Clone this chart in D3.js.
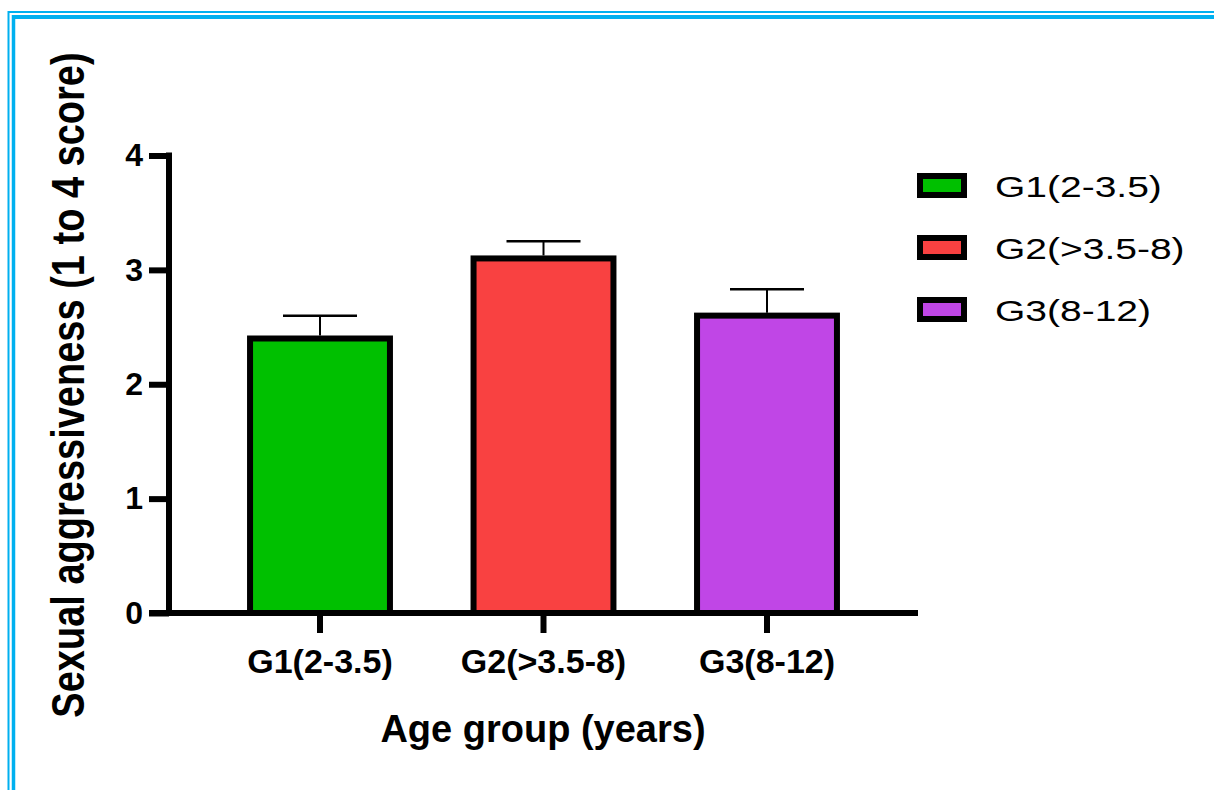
<!DOCTYPE html>
<html>
<head>
<meta charset="utf-8">
<script src="https://cdn.jsdelivr.net/npm/d3@7"></script>
<style>
  body { margin: 0; background: #fff; }
  text { font-family: Arial, "Liberation Sans", sans-serif; }
</style>
</head>
<body>
<script>
// dati
var gruppi = ["G1(2-3.5)", "G2(>3.5-8)", "G3(8-12)"];
var medie = [2.40, 3.10, 2.60];
var errori = [0.20, 0.15, 0.23];
var colori = ["#00C000", "#F94141", "#C046E6"];
var yTicks = [0, 1, 2, 3, 4];

var width = 1214, height = 790;
var font = "Arial, 'Liberation Sans', sans-serif";

var svg = d3.select("body").append("svg")
    .attr("width", width)
    .attr("height", height);

// cornice blu
svg.append("line").attr("x1", 8.5).attr("x2", 8.5).attr("y1", 11).attr("y2", height)
    .attr("stroke", "#00B0F0").attr("stroke-width", 2);
svg.append("line").attr("x1", 8).attr("x2", width).attr("y1", 12).attr("y2", 12)
    .attr("stroke", "#00B0F0").attr("stroke-width", 2);
svg.append("line").attr("x1", 13.5).attr("x2", 13.5).attr("y1", 15).attr("y2", height)
    .attr("stroke", "#00B0F0").attr("stroke-width", 3.5);
svg.append("line").attr("x1", 12).attr("x2", width).attr("y1", 17).attr("y2", 17)
    .attr("stroke", "#00B0F0").attr("stroke-width", 4);

// scale
var x = d3.scaleBand().domain(gruppi).range([208.25, 878.75]).paddingInner(0.374).paddingOuter(0.187);
var y = d3.scaleLinear().domain([0, 4]).range([613, 155.5]);

var g = svg.append("g");

// barre
g.selectAll("rect.bar").data(gruppi).enter().append("rect")
    .attr("class", "bar")
    .attr("x", function (d) { return x(d); })
    .attr("y", function (d, i) { return y(medie[i]); })
    .attr("width", x.bandwidth())
    .attr("height", function (d, i) { return y(0) - y(medie[i]); })
    .attr("fill", function (d, i) { return colori[i]; })
    .attr("stroke", "#000")
    .attr("stroke-width", 6);

// barre di errore
g.selectAll("line.err").data(gruppi).enter().append("line")
    .attr("x1", function (d) { return x(d) + x.bandwidth() / 2; })
    .attr("x2", function (d) { return x(d) + x.bandwidth() / 2; })
    .attr("y1", function (d, i) { return y(medie[i]) - 3; })
    .attr("y2", function (d, i) { return y(medie[i] + errori[i]); })
    .attr("stroke", "#000").attr("stroke-width", 2);
g.selectAll("line.cap").data(gruppi).enter().append("line")
    .attr("x1", function (d) { return x(d) + x.bandwidth() / 2 - 37; })
    .attr("x2", function (d) { return x(d) + x.bandwidth() / 2 + 37; })
    .attr("y1", function (d, i) { return y(medie[i] + errori[i]); })
    .attr("y2", function (d, i) { return y(medie[i] + errori[i]); })
    .attr("stroke", "#000").attr("stroke-width", 2.5);

// assi
var yAxis = d3.axisLeft(y).tickValues(yTicks).tickSize(20).tickPadding(6).tickFormat(d3.format("d"));
var yg = svg.append("g").attr("transform", "translate(169,0)").call(yAxis);
yg.select(".domain").attr("d", "M0," + (y(4) - 3) + "V" + (y(0) + 3)).attr("stroke-width", 6);
yg.selectAll(".tick line").attr("stroke-width", 6);
yg.selectAll(".tick text").attr("font-size", 32).attr("font-weight", "bold").attr("fill", "#000")
    .attr("font-family", font);

var xAxis = d3.axisBottom(x).tickSize(20).tickSizeOuter(0).tickPadding(16);
var xg = svg.append("g").attr("transform", "translate(0," + y(0) + ")").call(xAxis);
xg.select(".domain").attr("d", "M149,0H918").attr("stroke-width", 6);
xg.selectAll(".tick line").attr("stroke-width", 6).attr("y1", 3);
xg.selectAll(".tick text").attr("font-size", 34).attr("font-weight", "bold").attr("fill", "#000")
    .attr("font-family", font);

// titoli degli assi
svg.append("text")
    .attr("transform", "translate(84,385) rotate(-90) scale(1,1.2)")
    .attr("text-anchor", "middle")
    .attr("font-size", 38).attr("font-weight", "bold")
    .text("Sexual aggressiveness (1 to 4 score)");

svg.append("text")
    .attr("x", 543).attr("y", 742)
    .attr("text-anchor", "middle")
    .attr("font-size", 38).attr("font-weight", "bold")
    .text("Age group (years)");

// legenda
var leg = svg.append("g").attr("transform", "translate(920,176)");
var item = leg.selectAll("g").data(gruppi).enter().append("g")
    .attr("transform", function (d, i) { return "translate(0," + i * 62 + ")"; });
item.append("rect")
    .attr("x", 0).attr("y", 0).attr("width", 44).attr("height", 19)
    .attr("fill", function (d, i) { return colori[i]; })
    .attr("stroke", "#000").attr("stroke-width", 6);
item.append("text")
    .attr("transform", "translate(75,10) scale(1.3,1)")
    .attr("dy", "0.36em")
    .attr("font-size", 30)
    .text(function (d) { return d; });
</script>
</body>
</html>
